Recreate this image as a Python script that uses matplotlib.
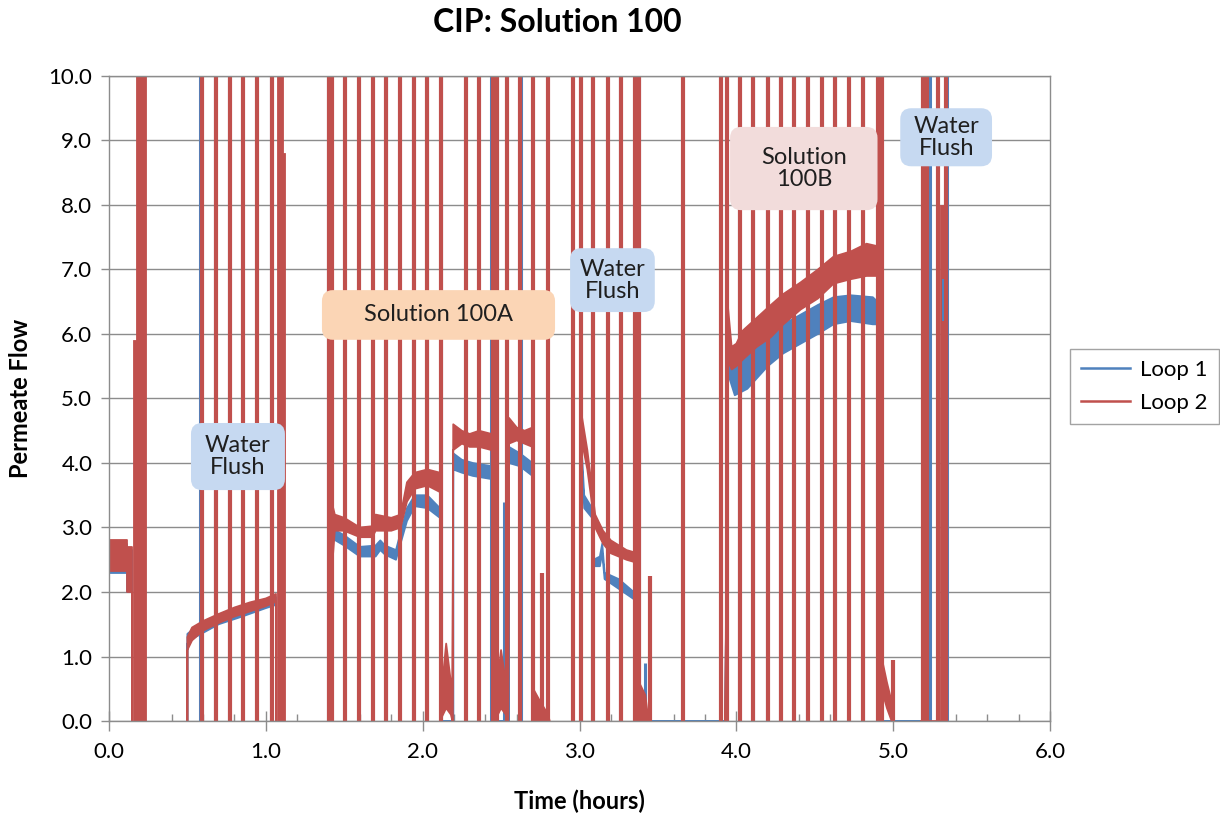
import numpy as np
import matplotlib
matplotlib.use("Agg")
import matplotlib.pyplot as plt
from matplotlib.patches import FancyBboxPatch

plt.rcParams['font.family'] = ['Lato', 'DejaVu Sans']

nan = np.nan

# baseline flow trace: (time h, band low, band high); nan = no reading
loop1_trace = [
    (0.0, 2.3, 2.75), (0.113, 2.3, 2.75), (0.113, 2.0, 2.65), (0.145, 2.0, 2.65), (0.145, 0, 0),
    (0.15, nan, nan), (0.5, 0, 0),
    (0.5, 1.2, 1.35), (0.55, 1.3, 1.45), (0.70, 1.5, 1.65), (0.85, 1.62, 1.78), (1.00, 1.75, 1.88),
    (1.065, 1.8, 1.92), (1.065, 0, 0), (1.07, nan, nan), (1.41, 0, 0),
    (1.41, 2.85, 3.0), (1.50, 2.72, 2.88), (1.60, 2.55, 2.7), (1.70, 2.55, 2.72), (1.73, 2.65, 2.8),
    (1.76, 2.58, 2.72), (1.83, 2.5, 2.65), (1.90, 3.1, 3.3), (1.95, 3.33, 3.5), (2.03, 3.3, 3.5),
    (2.11, 3.15, 3.3), (2.11, 0, 0),
    (2.195, 0, 0), (2.195, 3.9, 4.15), (2.25, 3.85, 4.05), (2.32, 3.8, 4.0), (2.44, 3.75, 3.95), (2.44, 0, 0),
    (2.55, 0, 0), (2.55, 4.0, 4.25), (2.62, 3.95, 4.15), (2.70, 3.8, 4.0), (2.70, 0, 0), (2.71, nan, nan),
    (3.01, 0, 0), (3.01, 4.2, 4.4), (3.03, 3.3, 3.5), (3.08, 3.15, 3.3), (3.09, 2.4, 2.5), (3.13, 2.4, 2.55),
    (3.145, 2.6, 2.75), (3.16, 2.2, 2.3), (3.25, 2.05, 2.2), (3.37, 1.85, 1.95), (3.37, 0, 0),
    (3.93, 0, 0), (3.945, 5.4, 5.6), (3.99, 5.05, 5.5), (4.07, 5.15, 5.7), (4.20, 5.5, 5.96), (4.30, 5.7, 6.15),
    (4.41, 5.85, 6.3), (4.52, 6.0, 6.45), (4.62, 6.15, 6.57), (4.73, 6.2, 6.6), (4.87, 6.15, 6.57),
    (4.90, 6.15, 6.5), (4.90, 0, 0), (5.17, 0, 0),
]
loop2_trace = [
    (0.0, 2.32, 2.8), (0.113, 2.32, 2.8), (0.113, 2.0, 2.7), (0.145, 2.0, 2.7), (0.145, 0, 0),
    (0.15, nan, nan), (0.5, 0, 0),
    (0.5, 1.1, 1.3), (0.53, 1.25, 1.45), (0.60, 1.4, 1.55), (0.70, 1.52, 1.66), (0.80, 1.62, 1.76),
    (0.90, 1.7, 1.84), (1.00, 1.78, 1.9), (1.065, 1.85, 1.97), (1.065, 0, 0), (1.07, nan, nan), (1.42, 0, 0),
    (1.42, 2.3, 3.4), (1.44, 2.95, 3.2), (1.50, 2.95, 3.15), (1.60, 2.85, 3.0), (1.68, 2.85, 3.02),
    (1.70, 2.95, 3.2), (1.80, 2.95, 3.15), (1.86, 3.0, 3.2), (1.90, 3.4, 3.7), (1.95, 3.6, 3.85),
    (2.03, 3.65, 3.9), (2.11, 3.55, 3.85), (2.11, 0, 0.2),
    (2.15, 0.2, 1.2), (2.18, 0.1, 0.6), (2.19, 0, 0),
    (2.195, 4.2, 4.6), (2.25, 4.3, 4.5), (2.30, 4.25, 4.45), (2.36, 4.25, 4.5), (2.44, 4.2, 4.45), (2.46, 0, 0.3),
    (2.50, 0.2, 1.1), (2.53, 0.1, 0.6), (2.545, 0, 0),
    (2.55, 4.3, 4.7), (2.60, 4.35, 4.55), (2.65, 4.3, 4.5), (2.70, 4.25, 4.55), (2.705, 0, 0.5),
    (2.75, 0, 0.3), (2.80, 0, 0.1), (2.81, 0, 0), (2.815, nan, nan),
    (3.01, 0, 0), (3.01, 4.4, 4.8), (3.05, 3.9, 4.2), (3.10, 3.0, 3.2), (3.15, 2.75, 2.95), (3.20, 2.6, 2.8),
    (3.30, 2.5, 2.65), (3.37, 2.45, 2.6), (3.38, 0, 0.6), (3.42, 0, 0.4), (3.44, 0, 0), (3.45, nan, nan),
    (3.93, 0, 0), (3.945, 5.6, 6.46), (3.97, 5.45, 5.8), (4.00, 5.5, 5.85), (4.04, 5.6, 6.05),
    (4.13, 5.8, 6.25), (4.22, 5.95, 6.45), (4.30, 6.15, 6.62), (4.41, 6.38, 6.8), (4.52, 6.55, 7.0),
    (4.62, 6.78, 7.2), (4.73, 6.85, 7.28), (4.83, 6.9, 7.4), (4.92, 6.9, 7.35), (4.925, 0.5, 1.0),
    (4.96, 0.2, 0.6), (4.99, 0, 0.3), (5.0, 0, 0.05), (5.01, nan, nan), (5.17, 0, 0), (5.35, 0, 0),
]

# times where the flow reading shoots off the scale
loop1_spikes = [0.580, 0.676, 0.765, 1.033, 1.397, 1.767, 1.939, 2.028, 2.117, 2.436, 2.628,
                3.080, 3.259, 3.380, 4.018, 4.107, 4.196, 4.279, 4.452, 4.630, 4.809, 4.904,
                5.236, 5.344]
loop2_spikes = [0.593, 0.682, 0.772, 0.855, 0.944, 1.040, 1.403, 1.422, 1.505, 1.594, 1.684,
                1.767, 1.856, 1.945, 2.028, 2.117, 2.277, 2.360, 2.449, 2.474, 2.538, 2.621,
                2.704, 2.800, 2.959, 3.010, 3.087, 3.182, 3.265, 3.355, 3.380, 3.661, 3.903,
                3.941, 4.024, 4.107, 4.203, 4.286, 4.369, 4.458, 4.547, 4.630, 4.719, 4.809,
                4.904, 4.930, 5.191, 5.217, 5.287, 5.338]
# shorter spikes: time, peak
loop1_short_t = [2.519, 3.418]
loop1_short_v = [3.4, 0.9]
loop2_short_t = [2.761, 3.450, 5.000]
loop2_short_v = [2.3, 2.25, 0.94]

# dense oscillation bursts: start, end, low, high
loop1_bursts = [(5.313, 5.322, 6.2, 6.85)]
loop2_bursts = [(0.153, 0.172, 0, 5.9), (0.172, 0.195, 0, 10.5), (0.195, 0.199, 0, 6.2),
                (0.199, 0.236, 0, 10.5), (1.071, 1.110, 0, 10.5), (1.110, 1.122, 0, 8.8),
                (5.175, 5.181, 0, 1.5), (5.181, 5.205, 0, 6.1), (5.300, 5.336, 0, 8.0)]

# phase labels: text, box left, right, bottom, top (data units), colour
phases = [
    ("Water\nFlush", 0.523, 1.122, 3.58, 4.62, "#C6D9F1"),
    ("Solution 100A", 1.358, 2.844, 5.91, 6.68, "#FBD5B5"),
    ("Water\nFlush", 2.94, 3.48, 6.34, 7.33, "#C6D9F1"),
    ("Solution\n100B", 3.96, 4.90, 7.92, 9.21, "#F2DCDB"),
    ("Water\nFlush", 5.045, 5.63, 8.60, 9.50, "#C6D9F1"),
]

blue = "#4F81BD"
red = "#C0504D"
grid_c = "#8C8C8C"

fig = plt.figure(figsize=(12.2, 8.17), dpi=100)
ax = fig.add_axes([0.0893, 0.1175, 0.7714, 0.7895])


def draw_loop(trace, spikes, short_t, short_v, bursts, color, lw, z, label):
    t, lo, hi = zip(*trace)
    ax.fill_between(t, lo, hi, facecolor=color, edgecolor=color, lw=1.3, zorder=z)
    ax.vlines(spikes, 0, 10.5, color=color, lw=lw, zorder=z)
    ax.vlines(short_t, 0, short_v, color=color, lw=lw, zorder=z)
    for t0, t1, b, top in bursts:
        ax.bar(t0, top - b, width=t1 - t0, bottom=b, align='edge', color=color,
               edgecolor=color, lw=0.6, zorder=z + 0.5)
    ax.plot([], [], color=color, lw=1.8, label=label)


draw_loop(loop1_trace, loop1_spikes, loop1_short_t, loop1_short_v, loop1_bursts, blue, 2.2, 2, "Loop 1")
draw_loop(loop2_trace, loop2_spikes, loop2_short_t, loop2_short_v, loop2_bursts, red, 3.0, 3, "Loop 2")
# blue burst peeks through the red one
for t0, t1, b, top in loop1_bursts:
    ax.bar(t0, top - b, width=t1 - t0, bottom=b, align='edge', color=blue, lw=0, zorder=4)

aspect = (0.7714 * 1220 / 6.0) / (0.7895 * 817 / 10.0)
for text, x0, x1, y0, y1, fc in phases:
    box = FancyBboxPatch((x0, y0), x1 - x0, y1 - y0,
                         boxstyle="round,pad=0,rounding_size=0.07",
                         mutation_aspect=aspect, fc=fc, ec="none", zorder=6)
    ax.add_patch(box)
    ax.text((x0 + x1) / 2, (y0 + y1) / 2, text, ha="center", va="center",
            fontsize=17, color="#1F1F1F", zorder=7, linespacing=1.05)

ax.set_xlim(0, 6)
ax.set_ylim(0, 10)
ax.set_xticks(np.arange(0, 6.01, 1.0))
ax.set_xticks(np.arange(0, 6.01, 0.2), minor=True)
ax.set_yticks(np.arange(0, 10.01, 1.0))
ax.set_xticklabels([f"{v:.1f}" for v in np.arange(0, 6.01, 1.0)])
ax.set_yticklabels([f"{v:.1f}" for v in np.arange(0, 10.01, 1.0)])
ax.tick_params(axis="x", which="major", direction="inout", length=14, width=1, color=grid_c,
               labelsize=16, pad=8)
ax.tick_params(axis="x", which="minor", direction="in", length=5, width=1, color=grid_c)
ax.tick_params(axis="y", which="major", direction="out", length=6, width=1, color=grid_c,
               labelsize=16, pad=6)
ax.yaxis.grid(True, color=grid_c, lw=1)
ax.set_axisbelow(True)
for s in ax.spines.values():
    s.set_color(grid_c)
    s.set_linewidth(1)
    s.set_zorder(5)

ax.set_xlabel("Time (hours)", fontsize=17, fontweight="bold", labelpad=20)
ax.set_ylabel("Permeate Flow", fontsize=17, fontweight="bold", labelpad=12)
fig.text(0.457, 0.972, "CIP: Solution 100", ha="center", va="center", fontsize=23, fontweight="bold")

leg = fig.legend(loc="center left", bbox_to_anchor=(0.877, 0.527), fontsize=16, frameon=True,
                 fancybox=False, edgecolor=grid_c, handlelength=2.2, borderpad=0.5,
                 labelspacing=0.6, handletextpad=0.45, borderaxespad=0)
leg.get_frame().set_linewidth(1)

fig.savefig("out.png", dpi=100)
